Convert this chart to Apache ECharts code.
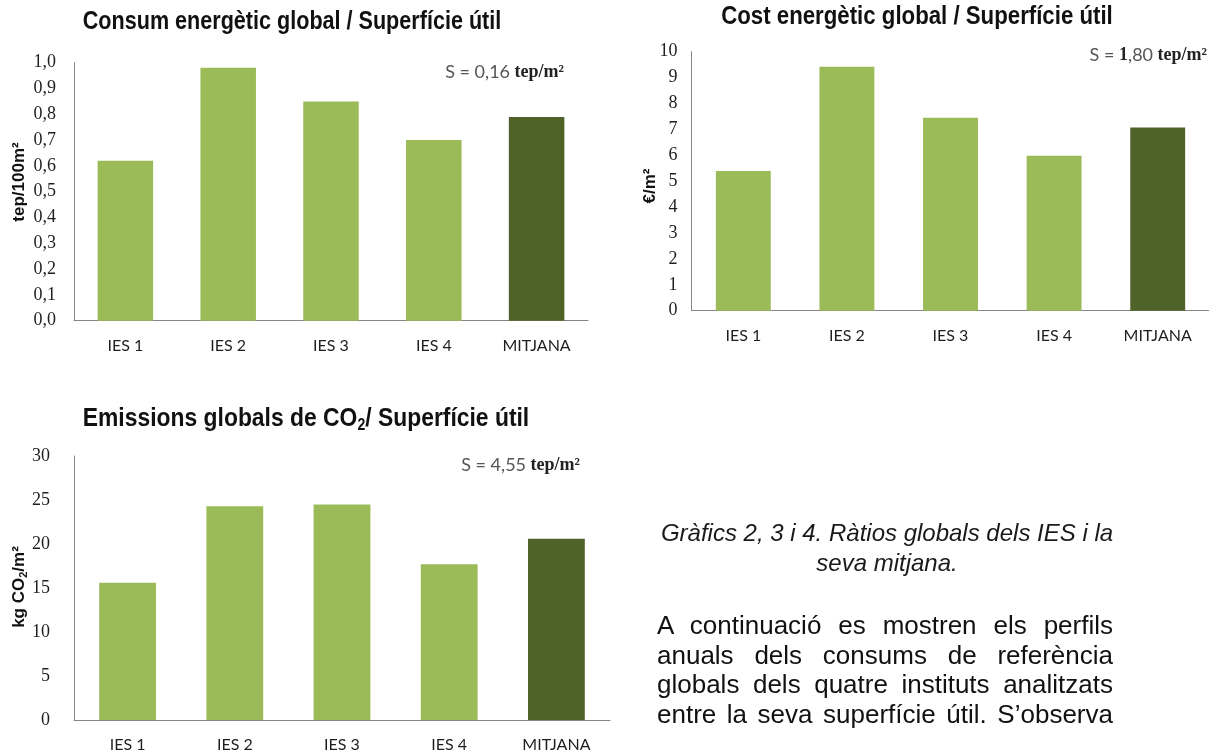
<!DOCTYPE html>
<html><head><meta charset="utf-8">
<script src="https://cdn.jsdelivr.net/npm/echarts@6/dist/echarts.min.js"></script>
<style>
html,body{margin:0;padding:0;background:#fff;width:1209px;height:752px;overflow:hidden;}
#chart{position:absolute;left:0;top:0;width:1209px;height:752px;}
#caption{position:absolute;left:637px;top:518px;width:500px;text-align:center;font:italic 24px/30px 'Liberation Sans',Arial,sans-serif;color:#1a1a1a;}
#para{position:absolute;left:657px;top:611px;width:456px;font:26px/29.7px 'Liberation Sans',Arial,sans-serif;color:#111;text-align:justify;text-align-last:justify;}
</style></head><body>
<div id="chart"></div>
<div id="caption">Gràfics 2, 3 i 4. Ràtios globals dels IES i la<br>seva mitjana.</div>
<div id="para">A continuació es mostren els perfils<br>anuals dels consums de referència<br>globals dels quatre instituts analitzats<br>entre la seva superfície útil. S’observa</div>
<script>
const categories = ['IES 1', 'IES 2', 'IES 3', 'IES 4', 'MITJANA'];
const consumValues = [0.62, 0.98, 0.85, 0.70, 0.79];
const costValues = [5.39, 9.42, 7.45, 5.98, 7.07];
const emissionValues = [15.6, 24.3, 24.5, 17.7, 20.6];
const consumAxis = { min: 0, max: 1, interval: 0.1 };
const costAxis = { min: 0, max: 10, interval: 1 };
const emissionAxis = { min: 0, max: 30, interval: 5 };

const LIGHT = '#9BBB59';
const DARK = '#4F6228';
const AXIS = '#868686';
const SERIF = '"Liberation Serif", "DejaVu Serif", serif';
const SANS = '"Liberation Sans", Arial, sans-serif';
const LABEL = 'Lato, "Open Sans", sans-serif';

const chart = echarts.init(document.getElementById('chart'), null, { renderer: 'canvas' });

function xAxisCfg(gi) {
  return {
    gridIndex: gi, type: 'category', data: categories,
    axisLine: { show: true, lineStyle: { color: AXIS, width: 1 } },
    axisTick: { show: false },
    axisLabel: { margin: 17, fontFamily: LABEL, fontSize: 16, color: '#1e1e1e' },
    splitLine: { show: false }
  };
}
function yAxisCfg(gi, ax, margin, fmt) {
  return {
    gridIndex: gi, type: 'value', min: ax.min, max: ax.max, interval: ax.interval,
    axisLine: { show: true, lineStyle: { color: AXIS, width: 1 } },
    axisTick: { show: false },
    splitLine: { show: false },
    axisLabel: { margin: margin, fontFamily: SERIF, fontSize: 18, color: '#1e1e1e', formatter: fmt }
  };
}
const barColor = p => (p.name === 'MITJANA' ? DARK : LIGHT);
function barSeries(gi, values, width) {
  return {
    type: 'bar', xAxisIndex: gi, yAxisIndex: gi, data: values, barWidth: width,
    itemStyle: { color: barColor }, silent: true, animation: false
  };
}

const titleStyle = (txt) => ({ text: txt, fontSize: 26, fontWeight: 'bold', fontFamily: SANS, fill: '#111', textAlign: 'center', textVerticalAlign: 'middle' });
const nameStyle = { fontSize: 17, fontWeight: 'bold', fontFamily: SANS, fill: '#111', textAlign: 'center', textVerticalAlign: 'middle' };
const annRich = {
  r: { fontFamily: LABEL, fontSize: 18, fill: '#555' },
  b: { fontFamily: SERIF, fontWeight: 'bold', fontSize: 18, fill: '#222' }
};

chart.setOption({
  animation: false,
  grid: [
    { left: 74, top: 62.7, width: 514, height: 258, outerBoundsMode: 'none', containLabel: false },
    { left: 691.5, top: 51.7, width: 518, height: 259, outerBoundsMode: 'none', containLabel: false },
    { left: 74, top: 456, width: 536, height: 264, outerBoundsMode: 'none', containLabel: false }
  ],
  xAxis: [xAxisCfg(0), xAxisCfg(1), xAxisCfg(2)],
  yAxis: [
    yAxisCfg(0, consumAxis, 18, v => v.toFixed(1).replace('.', ',')),
    yAxisCfg(1, costAxis, 14, v => String(v)),
    yAxisCfg(2, emissionAxis, 24, v => String(v))
  ],
  series: [
    barSeries(0, consumValues, '54%'),
    barSeries(1, costValues, '53%'),
    barSeries(2, emissionValues, '53%')
  ],
  graphic: [
    { type: 'text', x: 292, y: 22, scaleX: 0.83, style: titleStyle('Consum energètic global / Superfície útil') },
    { type: 'text', x: 917, y: 17, scaleX: 0.855, style: titleStyle('Cost energètic global / Superfície útil') },
    { type: 'text', x: 306, y: 419, scaleX: 0.88, style: {
        text: '{a|Emissions globals de CO}{s|2}{a|/ Superfície útil}',
        textAlign: 'center', textVerticalAlign: 'middle',
        rich: {
          a: { fontSize: 26, fontWeight: 'bold', fontFamily: SANS, fill: '#111', lineHeight: 30 },
          s: { fontSize: 16, fontWeight: 'bold', fontFamily: SANS, fill: '#111', lineHeight: 16, verticalAlign: 'bottom' }
        } } },
    { type: 'text', x: 19, y: 182, rotation: Math.PI / 2, style: Object.assign({ text: 'tep/100m²' }, nameStyle) },
    { type: 'text', x: 650, y: 186, rotation: Math.PI / 2, style: Object.assign({ text: '€/m²' }, nameStyle) },
    { type: 'text', x: 19, y: 587, rotation: Math.PI / 2, style: {
        text: '{a|kg CO}{s|2}{a|/m²}', textAlign: 'center', textVerticalAlign: 'middle',
        rich: {
          a: { fontSize: 17, fontWeight: 'bold', fontFamily: SANS, fill: '#111', lineHeight: 20 },
          s: { fontSize: 11, fontWeight: 'bold', fontFamily: SANS, fill: '#111', lineHeight: 11, verticalAlign: 'bottom' }
        } } },
    { type: 'text', x: 564, y: 72, style: { text: '{r|S = 0,16 }{b|tep/m²}', textAlign: 'right', textVerticalAlign: 'middle', rich: annRich } },
    { type: 'text', x: 1207, y: 55, style: { text: '{r|S = }{b|1}{r|,80 }{b|tep/m²}', textAlign: 'right', textVerticalAlign: 'middle', rich: annRich } },
    { type: 'text', x: 580, y: 465, style: { text: '{r|S = 4,55 }{b|tep/m²}', textAlign: 'right', textVerticalAlign: 'middle', rich: annRich } }
  ]
});
</script>
</body></html>
